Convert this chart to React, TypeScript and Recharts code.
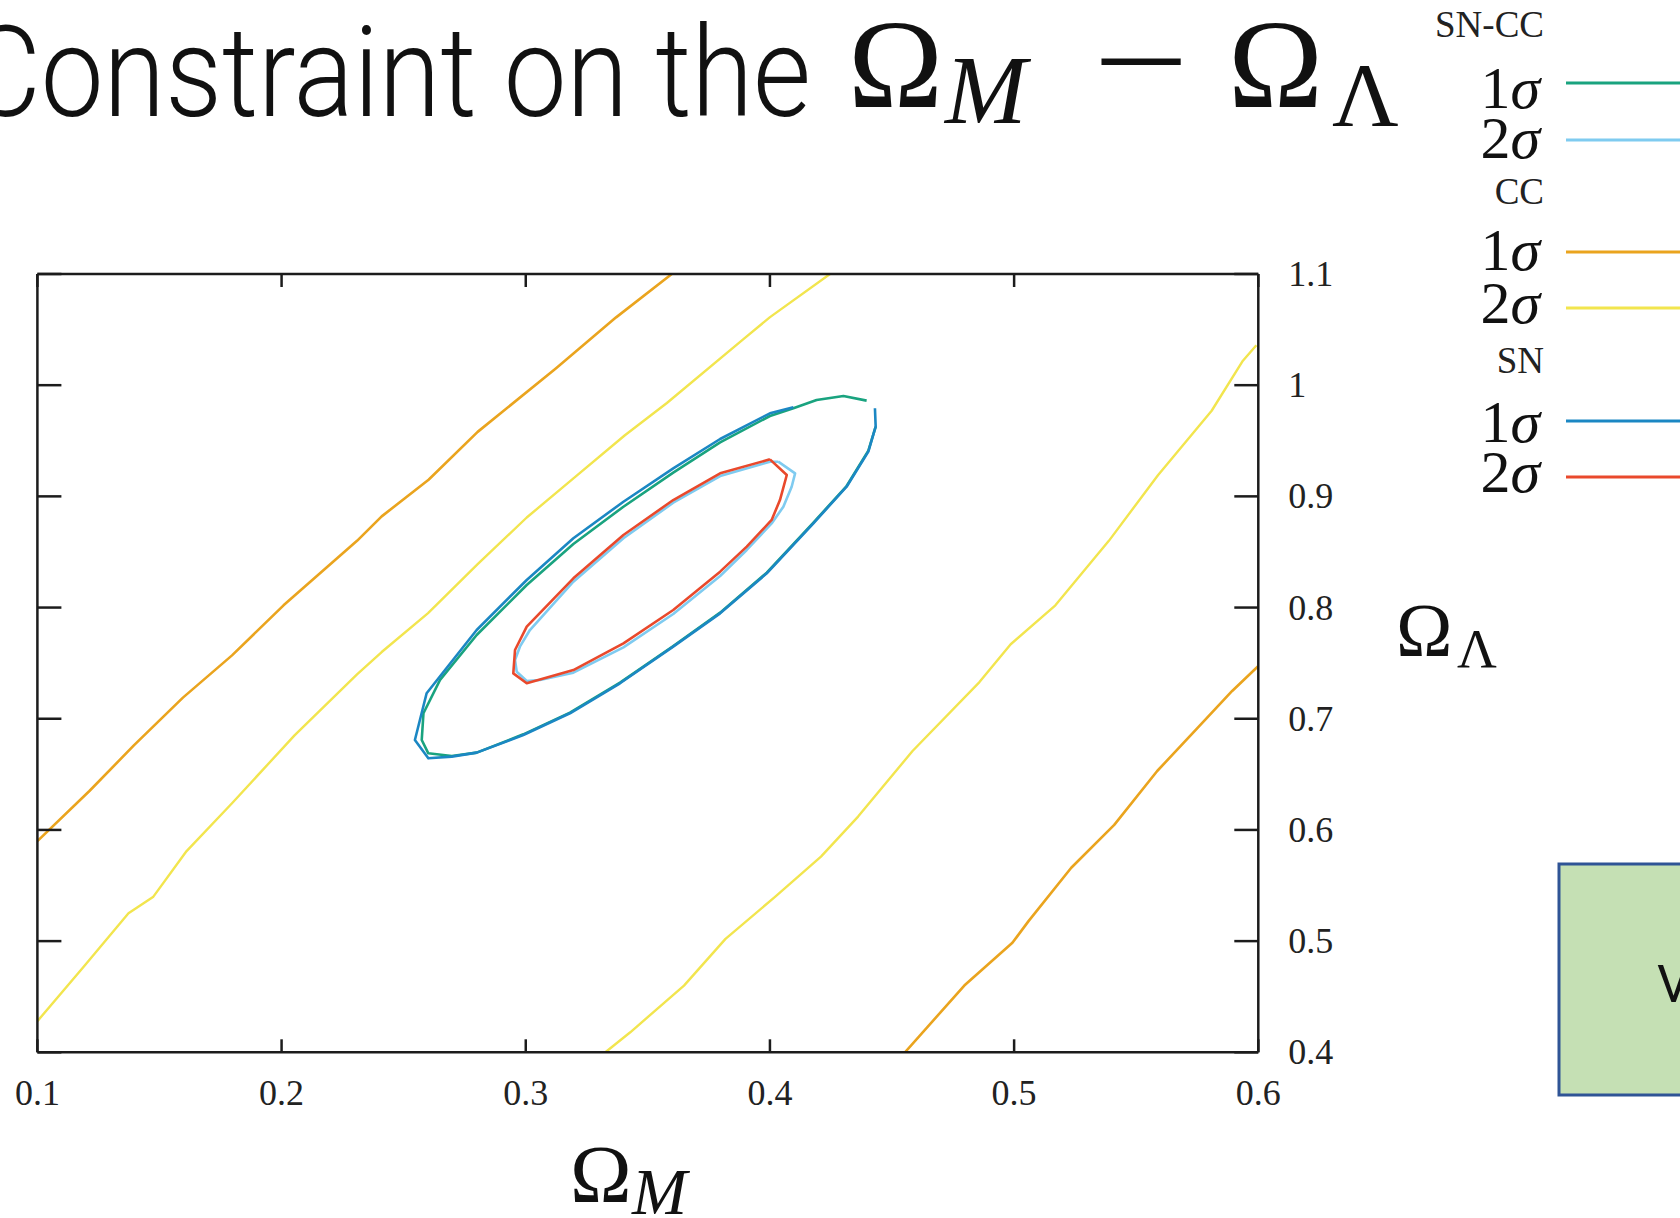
import React from 'react';
import { LineChart, Line, XAxis, YAxis } from 'recharts';

// axis ranges and ticks
const xDomain = [0.1, 0.6];
const yDomain = [0.4, 1.1];
const xTicks = [0.1, 0.2, 0.3, 0.4, 0.5, 0.6];
const xTickLabels = ['0.1', '0.2', '0.3', '0.4', '0.5', '0.6'];
const yTicks = [0.4, 0.5, 0.6, 0.7, 0.8, 0.9, 1.0, 1.1];
const yTickLabels = ['0.4', '0.5', '0.6', '0.7', '0.8', '0.9', '1', '1.1'];

// CC 1σ (two branches)
const cc1Upper: [number, number][] = [
  [0.1, 0.590], [0.1213, 0.635], [0.1395, 0.676], [0.1596, 0.719], [0.1797, 0.757],
  [0.2008, 0.802], [0.2309, 0.860], [0.2410, 0.882], [0.2602, 0.915], [0.2803, 0.958],
  [0.3123, 1.015], [0.3370, 1.061], [0.3598, 1.1],
];
const cc1Lower: [number, number][] = [
  [0.4553, 0.4], [0.4796, 0.460], [0.4993, 0.4985], [0.5059, 0.518], [0.5234, 0.566],
  [0.5410, 0.6045], [0.5586, 0.653], [0.5761, 0.694], [0.5893, 0.725], [0.5998, 0.747],
];

// CC 2σ (two branches)
const cc2Upper: [number, number][] = [
  [0.1, 0.428], [0.1186, 0.476], [0.1373, 0.525], [0.1475, 0.540], [0.1611, 0.581],
  [0.1797, 0.624], [0.2053, 0.685], [0.2309, 0.740], [0.2410, 0.760], [0.2600, 0.795],
  [0.2803, 0.839], [0.3004, 0.881], [0.3205, 0.918], [0.3406, 0.955], [0.3578, 0.984],
  [0.3889, 1.041], [0.3999, 1.061], [0.4246, 1.1],
];
const cc2Lower: [number, number][] = [
  [0.3326, 0.4], [0.3428, 0.418], [0.3648, 0.460], [0.3818, 0.502], [0.4022, 0.540],
  [0.4209, 0.576], [0.4361, 0.612], [0.4584, 0.671], [0.4858, 0.733], [0.4986, 0.767],
  [0.5169, 0.802], [0.5388, 0.860], [0.5589, 0.919], [0.5809, 0.977], [0.5937, 1.022],
  [0.5992, 1.036],
];

// SN-CC 1σ
const sncc1: [number, number][] = [
  [0.4396, 0.9861], [0.4301, 0.9903], [0.4191, 0.9867], [0.4096, 0.9792], [0.4000, 0.9723],
  [0.3796, 0.9486], [0.3604, 0.9213], [0.3400, 0.8907], [0.3195, 0.8572], [0.3004, 0.8203],
  [0.2799, 0.7753], [0.2649, 0.7349], [0.2581, 0.7049], [0.2574, 0.6809], [0.2601, 0.6689],
  [0.2697, 0.6665], [0.2799, 0.6695], [0.2990, 0.6860], [0.3181, 0.7055], [0.3386, 0.7325],
  [0.3604, 0.7654], [0.3796, 0.7954], [0.3987, 0.8314], [0.4178, 0.8764], [0.4314, 0.9093],
  [0.4403, 0.9411], [0.4433, 0.9627],
];

// SN-CC 2σ
const sncc2: [number, number][] = [
  [0.4034, 0.9312], [0.4103, 0.9207], [0.4089, 0.9087], [0.4055, 0.8907], [0.4007, 0.8757],
  [0.3905, 0.8518], [0.3796, 0.8284], [0.3604, 0.7942], [0.3400, 0.7642], [0.3195, 0.7414],
  [0.3058, 0.7349], [0.3004, 0.7340], [0.2963, 0.7423], [0.2956, 0.7528], [0.2976, 0.7648],
  [0.3017, 0.7798], [0.3195, 0.8233], [0.3400, 0.8623], [0.3604, 0.8943], [0.3796, 0.9183],
  [0.4000, 0.9312], [0.4034, 0.9312],
];

// SN 1σ
const sn1: [number, number][] = [
  [0.4096, 0.9801], [0.4000, 0.9747], [0.3796, 0.9516], [0.3604, 0.9252], [0.3400, 0.8952],
  [0.3195, 0.8623], [0.3004, 0.8248], [0.2799, 0.7798], [0.2594, 0.7229], [0.2546, 0.6809],
  [0.2601, 0.6644], [0.2697, 0.6659], [0.2799, 0.6695], [0.2990, 0.6854], [0.3181, 0.7049],
  [0.3386, 0.7319], [0.3604, 0.7648], [0.3796, 0.7948], [0.3987, 0.8308], [0.4178, 0.8758],
  [0.4314, 0.9087], [0.4403, 0.9402], [0.4433, 0.9627], [0.4430, 0.9792],
];

// SN 2σ
const sn2: [number, number][] = [
  [0.4000, 0.9333], [0.4069, 0.9192], [0.4041, 0.8967], [0.4007, 0.8788], [0.3905, 0.8548],
  [0.3796, 0.8323], [0.3604, 0.7978], [0.3400, 0.7678], [0.3195, 0.7438], [0.3004, 0.7319],
  [0.2949, 0.7408], [0.2956, 0.7618], [0.3004, 0.7828], [0.3195, 0.8263], [0.3400, 0.8653],
  [0.3604, 0.8967], [0.3796, 0.9207], [0.4000, 0.9333],
];

const colors = {
  sncc1: '#19a37f',
  sncc2: '#7fcbf0',
  cc1: '#eaa41e',
  cc2: '#f2e54e',
  sn1: '#1b87c3',
  sn2: '#e9492c',
};

const toPts = (a: [number, number][]) => a.map(([x, y]) => ({ x, y }));

const FRAME = '#1c1c1c';
const SERIF = '"Liberation Serif", "DejaVu Serif", serif';

const BottomTick = (props: any) => {
  const { x, y, index } = props;
  return (
    <g>
      <line x1={x} y1={y} x2={x} y2={y - 13} stroke={FRAME} strokeWidth={2.5} />
      <text x={x} y={y + 41} textAnchor="middle" dominantBaseline="central" fontFamily={SERIF} fontSize={36} fill="#222">
        {xTickLabels[index]}
      </text>
    </g>
  );
};
const TopTick = (props: any) => {
  const { x, y } = props;
  return <line x1={x} y1={y} x2={x} y2={y + 13} stroke={FRAME} strokeWidth={2.5} />;
};
const RightTick = (props: any) => {
  const { x, y, index } = props;
  return (
    <g>
      <line x1={x} y1={y} x2={x - 24} y2={y} stroke={FRAME} strokeWidth={2.5} />
      <text x={x + 30} y={y} textAnchor="start" dominantBaseline="central" fontFamily={SERIF} fontSize={36} fill="#222">
        {yTickLabels[index]}
      </text>
    </g>
  );
};
const LeftTick = (props: any) => {
  const { x, y } = props;
  return <line x1={x} y1={y} x2={x + 24} y2={y} stroke={FRAME} strokeWidth={2.5} />;
};

const series = [
  { key: 'cc2a', data: cc2Upper, color: colors.cc2, w: 2.4 },
  { key: 'cc2b', data: cc2Lower, color: colors.cc2, w: 2.4 },
  { key: 'cc1a', data: cc1Upper, color: colors.cc1, w: 2.6 },
  { key: 'cc1b', data: cc1Lower, color: colors.cc1, w: 2.6 },
  { key: 'sncc1', data: sncc1, color: colors.sncc1, w: 2.6 },
  { key: 'sn1', data: sn1, color: colors.sn1, w: 2.6 },
  { key: 'sncc2', data: sncc2, color: colors.sncc2, w: 2.6 },
  { key: 'sn2', data: sn2, color: colors.sn2, w: 2.6 },
];

const legendRows = [
  { head: 'SN-CC', headY: 37, rows: [{ n: '1', y: 108, ly: 83, c: colors.sncc1 }, { n: '2', y: 158, ly: 140, c: colors.sncc2 }] },
  { head: 'CC', headY: 204, rows: [{ n: '1', y: 270, ly: 252, c: colors.cc1 }, { n: '2', y: 323, ly: 308, c: colors.cc2 }] },
  { head: 'SN', headY: 373, rows: [{ n: '1', y: 442, ly: 421, c: colors.sn1 }, { n: '2', y: 492, ly: 477, c: colors.sn2 }] },
];

const App: React.FC = () => {
  const frameCorners = toPts([[xDomain[0], yDomain[0]], [xDomain[1], yDomain[1]]]);
  return (
    <div style={{ position: 'absolute', left: 0, top: 0, width: 1680, height: 1218, background: '#fff', overflow: 'hidden' }}>
      <LineChart width={1680} height={1218} margin={{ top: 273, right: 341.7, bottom: 105.7, left: 36.4 }}>
        <XAxis
          xAxisId={0}
          type="number"
          dataKey="x"
          domain={xDomain}
          ticks={xTicks}
          orientation="bottom"
          height={60}
          tickSize={0}
          tickMargin={0}
          tickLine={false}
          axisLine={{ stroke: FRAME, strokeWidth: 2.5 }}
          tick={(p: any) => <BottomTick {...p} />}
          interval={0}
          allowDataOverflow
        />
        <XAxis
          xAxisId="top"
          type="number"
          dataKey="x"
          domain={xDomain}
          ticks={xTicks}
          orientation="top"
          height={1}
          tickSize={0}
          tickMargin={0}
          tickLine={false}
          axisLine={{ stroke: FRAME, strokeWidth: 2.5 }}
          tick={(p: any) => <TopTick {...p} />}
          interval={0}
          allowDataOverflow
        />
        <YAxis
          yAxisId={0}
          type="number"
          dataKey="y"
          domain={yDomain}
          ticks={yTicks}
          orientation="right"
          width={80}
          tickSize={0}
          tickMargin={0}
          tickLine={false}
          axisLine={{ stroke: FRAME, strokeWidth: 2.5 }}
          tick={(p: any) => <RightTick {...p} />}
          interval={0}
          allowDataOverflow
        />
        <YAxis
          yAxisId="left"
          type="number"
          dataKey="y"
          domain={yDomain}
          ticks={yTicks}
          orientation="left"
          width={1}
          tickSize={0}
          tickMargin={0}
          tickLine={false}
          axisLine={{ stroke: FRAME, strokeWidth: 2.5 }}
          tick={(p: any) => <LeftTick {...p} />}
          interval={0}
          allowDataOverflow
        />
        <Line
          xAxisId="top"
          yAxisId="left"
          data={frameCorners}
          dataKey="y"
          stroke="transparent"
          dot={false}
          activeDot={false}
          isAnimationActive={false}
        />
        {series.map((s) => (
          <Line
            key={s.key}
            xAxisId={0}
            yAxisId={0}
            data={toPts(s.data)}
            dataKey="y"
            type="linear"
            stroke={s.color}
            strokeWidth={s.w}
            strokeLinejoin="round"
            dot={false}
            activeDot={false}
            isAnimationActive={false}
          />
        ))}
      </LineChart>

      <svg width={1680} height={1218} style={{ position: 'absolute', left: 0, top: 0, pointerEvents: 'none' }}>
        {/* title */}
        <text x={-32} y={116} fontFamily="Roboto, 'Noto Sans CJK JP', sans-serif" fontWeight={300} fontSize={126} fill="#111" textLength={843} lengthAdjust="spacingAndGlyphs">
          Constraint on the
        </text>
        <text x={848} y={107} fontFamily={SERIF} fontSize={128} fill="#111">Ω</text>
        <text x={945} y={123} fontFamily={SERIF} fontStyle="italic" fontSize={98} fill="#111">M</text>
        <text x={1093} y={104} fontFamily={SERIF} fontSize={128} fill="#111" textLength={96} lengthAdjust="spacingAndGlyphs">−</text>
        <text x={1228} y={107} fontFamily={SERIF} fontSize={128} fill="#111">Ω</text>
        <text x={1332} y={126} fontFamily={SERIF} fontSize={92} fill="#111">Λ</text>

        {/* legend */}
        {legendRows.map((g) => (
          <g key={g.head}>
            <text x={1544} y={g.headY} textAnchor="end" fontFamily={SERIF} fontSize={37} fill="#222">{g.head}</text>
            {g.rows.map((r) => (
              <g key={r.n}>
                <text x={1540} y={r.y} textAnchor="end" fontFamily={SERIF} fontSize={60} fill="#111">
                  {r.n}
                  <tspan fontStyle="italic">σ</tspan>
                </text>
                <line x1={1566} y1={r.ly} x2={1690} y2={r.ly} stroke={r.c} strokeWidth={3} />
              </g>
            ))}
          </g>
        ))}

        {/* axis titles */}
        <text x={1396} y={656} fontFamily={SERIF} fontSize={76} fill="#111">Ω</text>
        <text x={1457} y={667} fontFamily={SERIF} fontSize={55} fill="#111">Λ</text>
        <text x={570} y={1202} fontFamily={SERIF} fontSize={83} fill="#111">Ω</text>
        <text x={632} y={1214} fontFamily={SERIF} fontStyle="italic" fontSize={66} fill="#111">M</text>

        {/* side box */}
        <rect x={1559} y={864} width={140} height={231} fill="#c5e0b4" stroke="#2f5496" strokeWidth={3} />
        <text x={1657} y={1002} fontFamily="Roboto, 'Noto Sans CJK JP', sans-serif" fontSize={52} fill="#111">V</text>
      </svg>
    </div>
  );
};

export default App;
